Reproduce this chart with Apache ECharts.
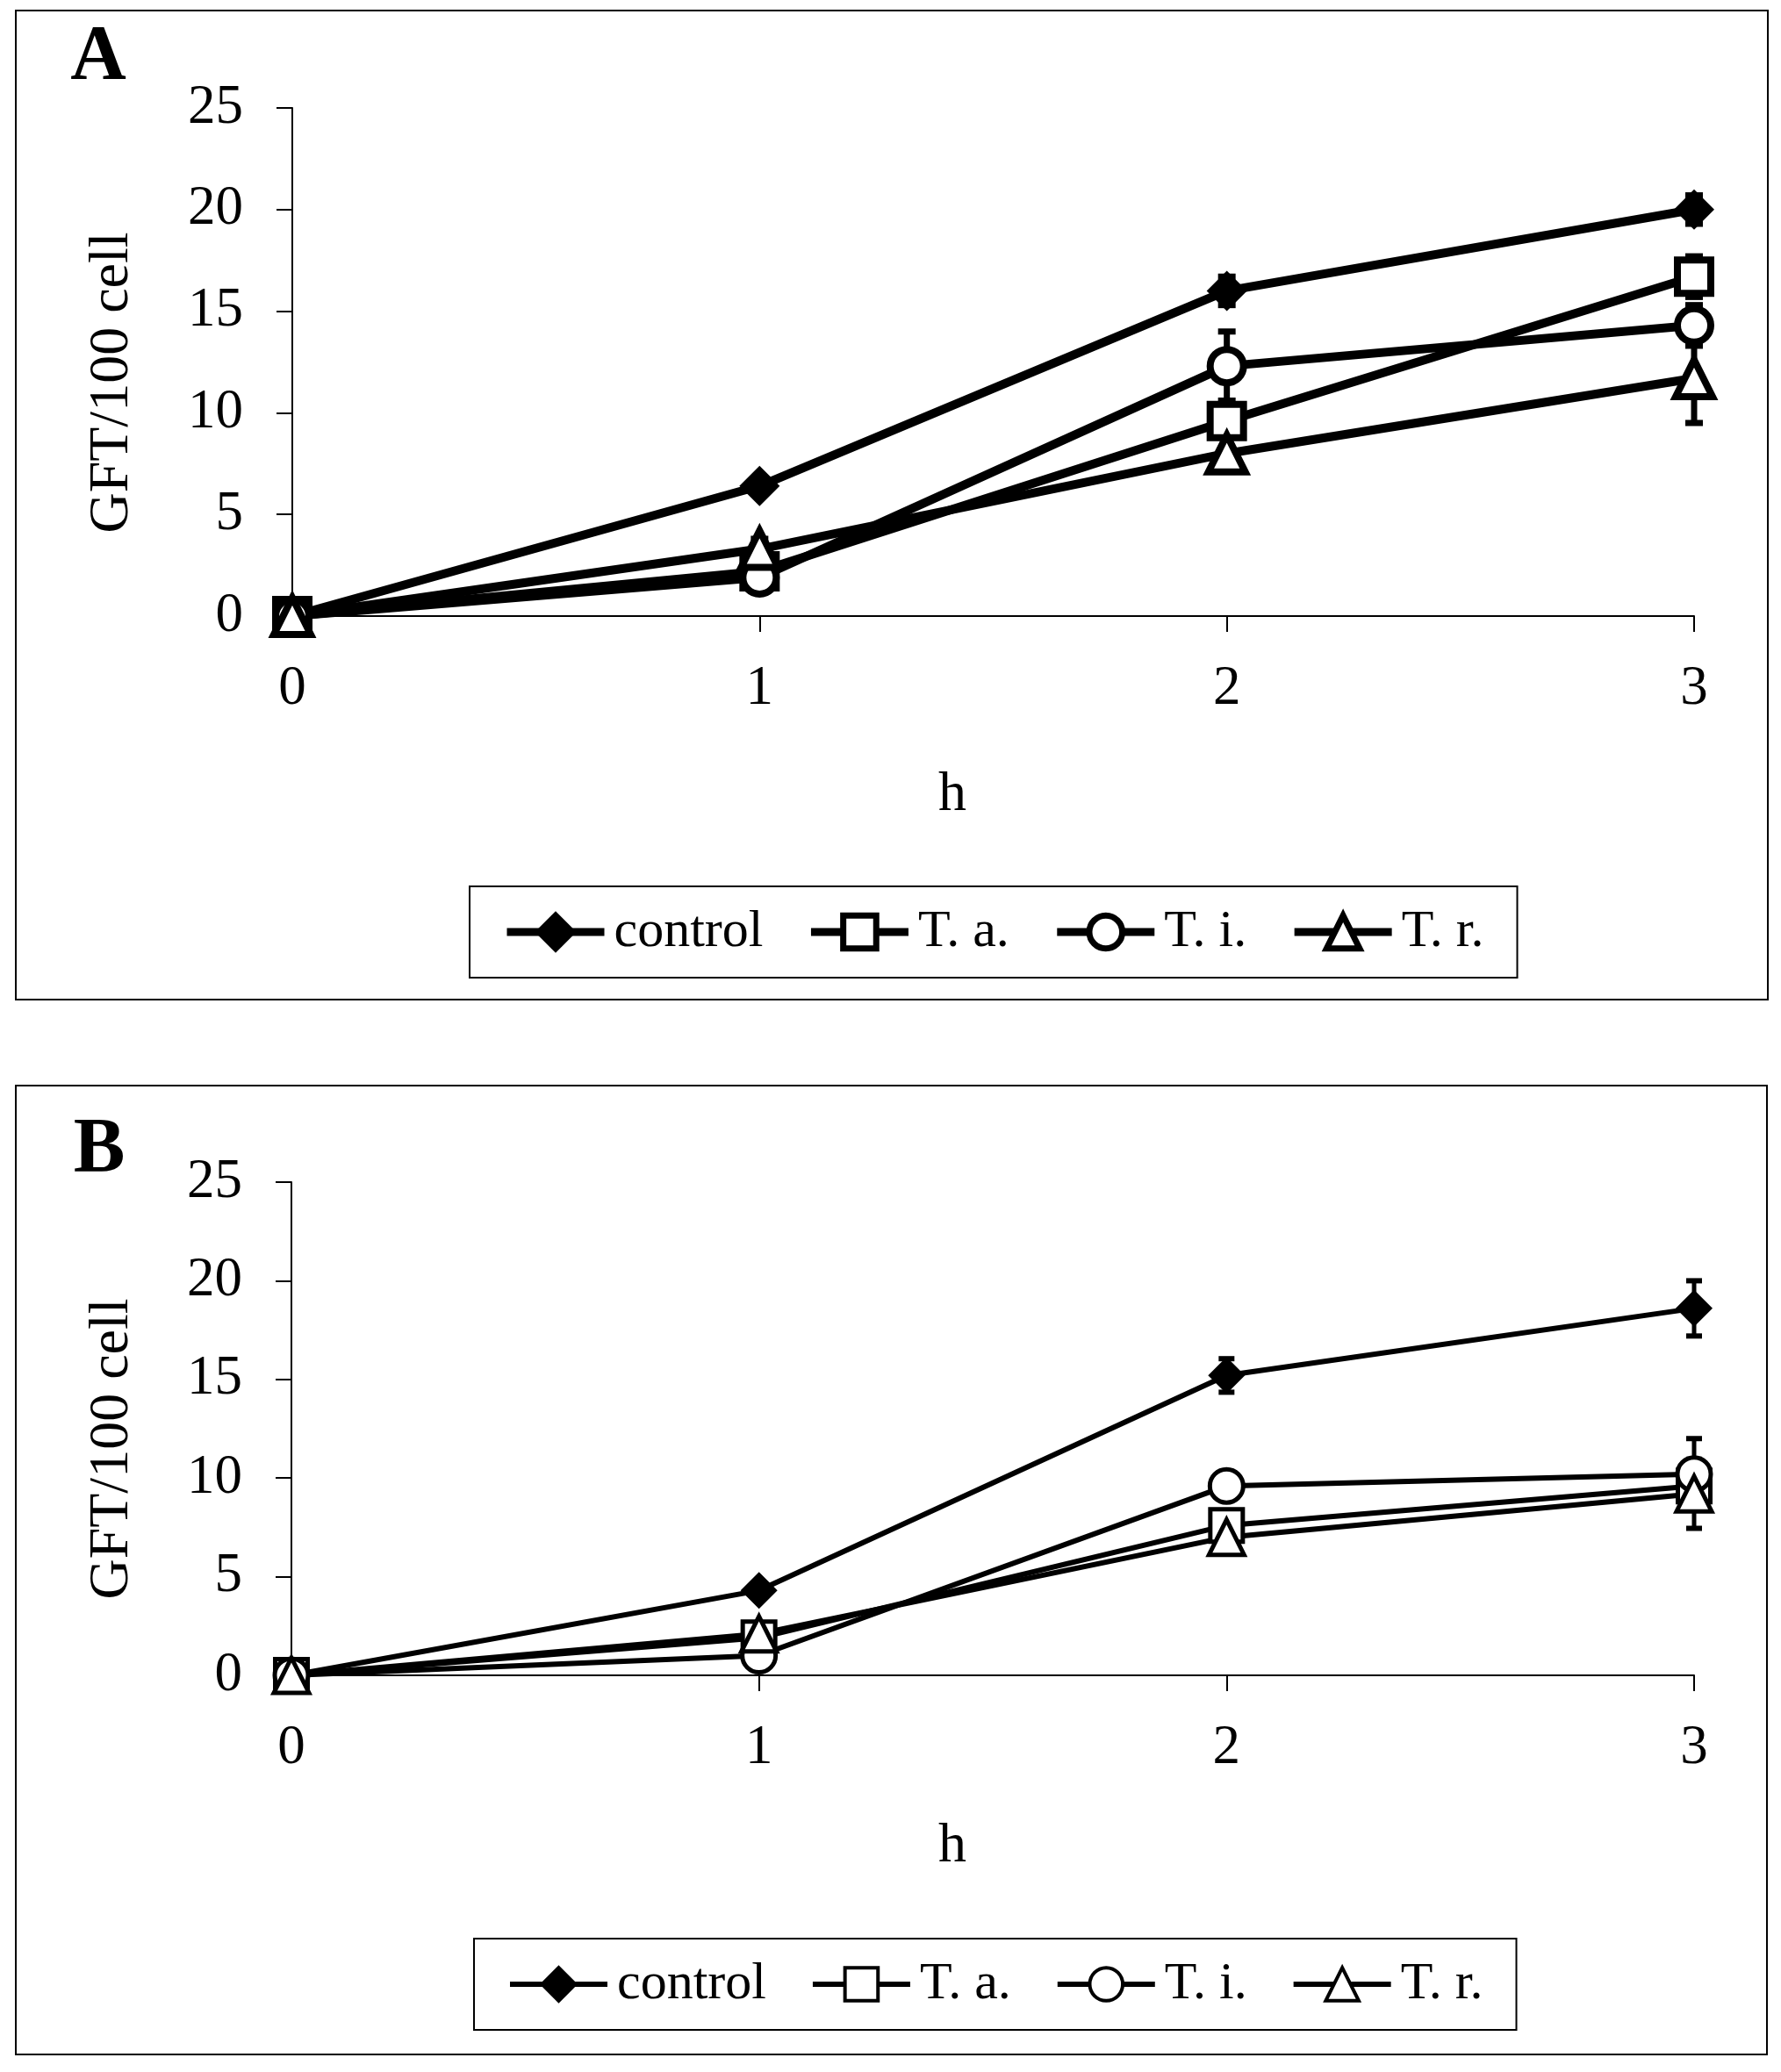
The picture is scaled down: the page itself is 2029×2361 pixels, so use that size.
<!DOCTYPE html>
<html>
<head>
<meta charset="utf-8">
<title>GFT/100 cell</title>
<script src="https://cdn.jsdelivr.net/npm/echarts@6/dist/echarts.min.js"></script>
<style>
  html, body { margin: 0; padding: 0; background: #fff; }
  #chart { width: 2029px; height: 2361px; }
</style>
</head>
<body>
<div id="chart"></div>
<script>
// x 轴（小时）
var hours = [0, 1, 2, 3];
var seriesNames = ['control', 'T. a.', 'T. i.', 'T. r.'];
var seriesSymbols = ['diamond', 'rect', 'circle', 'triangle'];

// 图 A 数据
var aControl = [0, 6.4, 16.0, 20.0];
var aTa = [0, 2.2, 9.6, 16.7];
var aTi = [0, 1.9, 12.3, 14.3];
var aTr = [0, 3.3, 8.0, 11.7];
// 图 A 误差
var aControlErr = [0, 0.2, 0.7, 0.7];
var aTaErr = [0, 0.9, 0.4, 1.0];
var aTiErr = [0, 0.5, 1.7, 1.0];
var aTrErr = [0, 0.5, 0.9, 2.2];

// 图 B 数据
var bControl = [0, 4.3, 15.2, 18.6];
var bTa = [0, 1.9, 7.6, 9.6];
var bTi = [0, 1.0, 9.6, 10.2];
var bTr = [0, 2.1, 7.0, 9.2];
// 图 B 误差
var bControlErr = [0, 0.3, 0.85, 1.4];
var bTaErr = [0, 0.3, 0.5, 0.6];
var bTiErr = [0, 0.3, 0.4, 1.8];
var bTrErr = [0, 0.3, 0.4, 1.75];

var FONT = "'Liberation Serif', 'Times New Roman', serif";

function pairs(vals) {
	var out = [];
	for (var i = 0; i < hours.length; i++) out.push([hours[i], vals[i]]);
	return out;
}
function triples(vals, errs) {
	var out = [];
	for (var i = 0; i < hours.length; i++) out.push([hours[i], vals[i], errs[i]]);
	return out;
}

// 折线
function makeLine(idx, vals, grid, st) {
	var sym = seriesSymbols[idx];
	var filled = sym === 'diamond';
	var size = st.sizes[idx];
	return {
		name: seriesNames[idx],
		type: 'line',
		xAxisIndex: grid, yAxisIndex: grid,
		data: pairs(vals),
		symbol: sym,
		symbolSize: size,
		z: 3,
		lineStyle: { color: '#000', width: st.line },
		itemStyle: {
			color: filled ? '#000' : '#fff',
			borderColor: '#000',
			borderWidth: filled ? 0 : st.border,
			opacity: 1
		},
		emphasis: { disabled: true }
	};
}

// 误差线
function makeErr(vals, errs, grid, st) {
	return {
		type: 'custom',
		xAxisIndex: grid, yAxisIndex: grid,
		data: triples(vals, errs),
		z: 2,
		silent: true,
		renderItem: function(params, api) {
			var x = api.value(0), y = api.value(1), e = api.value(2);
			if (!e) return;
			var top = api.coord([x, y + e]);
			var bot = api.coord([x, y - e]);
			var w = st.cap;
			var s = { stroke: '#000', lineWidth: st.errLine };
			var c = { stroke: '#000', lineWidth: st.capLine };
			return {
				type: 'group',
				children: [
					{ type: 'line', shape: { x1: top[0], y1: top[1], x2: bot[0], y2: bot[1] }, style: s },
					{ type: 'line', shape: { x1: top[0] - w, y1: top[1], x2: top[0] + w, y2: top[1] }, style: c },
					{ type: 'line', shape: { x1: bot[0] - w, y1: bot[1], x2: bot[0] + w, y2: bot[1] }, style: c }
				]
			};
		}
	};
}

function xAxisOf(grid) {
	return {
		type: 'value', gridIndex: grid, min: 0, max: 3, interval: 1,
		axisLine: { show: true, lineStyle: { color: '#000', width: 2 } },
		axisTick: { show: true, length: 18, lineStyle: { color: '#000', width: 2 } },
		axisLabel: { color: '#000', fontSize: 63, fontFamily: FONT, margin: 52 },
		splitLine: { show: false }
	};
}
function yAxisOf(grid) {
	return {
		type: 'value', gridIndex: grid, min: 0, max: 25, interval: 5,
		axisLine: { show: true, lineStyle: { color: '#000', width: 2 } },
		axisTick: { show: true, length: 18, lineStyle: { color: '#000', width: 2 } },
		axisLabel: { color: '#000', fontSize: 63, fontFamily: FONT, margin: 56 },
		splitLine: { show: false }
	};
}
function legendOf(left, top, st) {
	return {
		data: seriesNames,
		orient: 'horizontal',
		left: left, top: top,
		padding: [22, 38],
		itemWidth: 111, itemHeight: 47, itemGap: 50,
		borderColor: '#000', borderWidth: 2,
		selectedMode: false,
		lineStyle: { width: st.legLine },
		itemStyle: { borderWidth: st.legBorder },
		textStyle: { color: '#000', fontSize: 60, fontFamily: FONT, padding: [4, 0, 0, 6] }
	};
}

var styleA = { line: 10, border: 8, sizes: [46, 38, 38, 42], cap: 10, errLine: 7, capLine: 7, legLine: 9, legBorder: 7 };
var styleB = { line: 6, border: 5, sizes: [42, 37, 38, 40], cap: 9, errLine: 5, capLine: 6, legLine: 6, legBorder: 4 };

var chart = echarts.init(document.getElementById('chart'), null, { renderer: 'canvas' });
var option = {
	animation: false,
	backgroundColor: '#fff',
	grid: [
		{ left: 333, top: 123, width: 1597, height: 579 },
		{ left: 332, top: 1347, width: 1598, height: 562 }
	],
	xAxis: [xAxisOf(0), xAxisOf(1)],
	yAxis: [yAxisOf(0), yAxisOf(1)],
	legend: [legendOf(535, 1010, styleA), legendOf(540, 2209, styleB)],
	graphic: [
		{ type: 'rect', shape: { x: 18, y: 12, width: 1996, height: 1127 }, style: { fill: null, stroke: '#000', lineWidth: 2 }, z: 0 },
		{ type: 'rect', shape: { x: 18, y: 1237, width: 1995, height: 1104 }, style: { fill: null, stroke: '#000', lineWidth: 2 }, z: 0 },
		{ type: 'text', x: 112, y: 110, style: { text: 'A', font: 'bold 88px ' + FONT, fill: '#000', align: 'center', verticalAlign: 'bottom' } },
		{ type: 'text', x: 113, y: 1355, style: { text: 'B', font: 'bold 88px ' + FONT, fill: '#000', align: 'center', verticalAlign: 'bottom' } },
		{ type: 'text', x: 128, y: 436, rotation: Math.PI / 2, style: { text: 'GFT/100 cell', font: '64px ' + FONT, fill: '#000', align: 'center', verticalAlign: 'middle' } },
		{ type: 'text', x: 128, y: 1651, rotation: Math.PI / 2, style: { text: 'GFT/100 cell', font: '64px ' + FONT, fill: '#000', align: 'center', verticalAlign: 'middle' } },
		{ type: 'text', x: 1085, y: 906, style: { text: 'h', font: '64px ' + FONT, fill: '#000', align: 'center', verticalAlign: 'middle' } },
		{ type: 'text', x: 1085, y: 2104, style: { text: 'h', font: '64px ' + FONT, fill: '#000', align: 'center', verticalAlign: 'middle' } }
	],
	series: [
		makeErr(aControl, aControlErr, 0, styleA),
		makeErr(aTa, aTaErr, 0, styleA),
		makeErr(aTi, aTiErr, 0, styleA),
		makeErr(aTr, aTrErr, 0, styleA),
		makeLine(0, aControl, 0, styleA),
		makeLine(1, aTa, 0, styleA),
		makeLine(2, aTi, 0, styleA),
		makeLine(3, aTr, 0, styleA),
		makeErr(bControl, bControlErr, 1, styleB),
		makeErr(bTa, bTaErr, 1, styleB),
		makeErr(bTi, bTiErr, 1, styleB),
		makeErr(bTr, bTrErr, 1, styleB),
		makeLine(0, bControl, 1, styleB),
		makeLine(1, bTa, 1, styleB),
		makeLine(2, bTi, 1, styleB),
		makeLine(3, bTr, 1, styleB)
	]
};
chart.setOption(option);
</script>
</body>
</html>
